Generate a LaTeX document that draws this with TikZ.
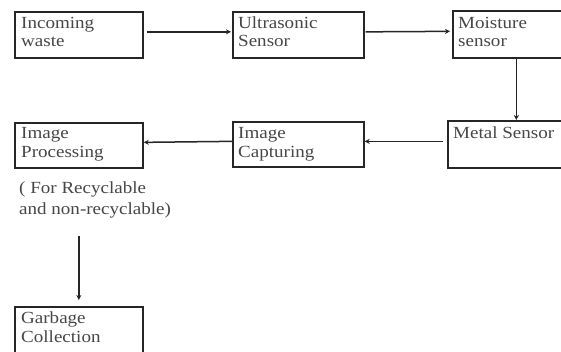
\documentclass[tikz,border=0pt]{standalone}
\usepackage{fontspec}
\setmainfont{Liberation Serif}[FakeStretch=1.12]
\usetikzlibrary{arrows.meta,calc}
\begin{document}
\begin{tikzpicture}[x=1pt,y=-1pt,
  boxst/.style={draw=black!85,line width=1.7pt},
  lbl/.style={anchor=base west,inner sep=0pt,text=black!72,font=\fontsize{17}{18.5}\selectfont},
  arr/.style={line width=1.5pt,draw=black!85,-{Stealth[length=5pt,width=5pt]}}]
\useasboundingbox (0,0) rectangle (561,351);
\clip (0,0) rectangle (561,351);
\fill[white] (0,0) rectangle (561,351);
% boxes
\node[boxst,anchor=north west,minimum width=128pt,minimum height=46pt,inner sep=0pt] (A) at (14,11) {};
\node[boxst,anchor=north west,minimum width=131pt,minimum height=46pt,inner sep=0pt] (B) at (232,11) {};
\node[boxst,anchor=north west,minimum width=123pt,minimum height=47pt,inner sep=0pt] (C) at (452,10) {};
\node[boxst,anchor=north west,minimum width=128pt,minimum height=47pt,inner sep=0pt] (D) at (447,120) {};
\node[boxst,anchor=north west,minimum width=131pt,minimum height=45pt,inner sep=0pt] (E) at (232,121) {};
\node[boxst,anchor=north west,minimum width=128pt,minimum height=45pt,inner sep=0pt] (F) at (14,122) {};
\node[boxst,anchor=north west,minimum width=128pt,minimum height=60pt,inner sep=0pt] (G) at (14,306) {};
% labels
\node[lbl] (tA1) at (21,28) {Incoming};
\node[lbl] (tA2) at (21,46) {waste};
\node[lbl] (tB1) at (238,28) {Ultrasonic};
\node[lbl] (tB2) at (238,46) {Sensor};
\node[lbl] (tC1) at (458,28) {Moisture};
\node[lbl] (tC2) at (458,46) {sensor};
\node[lbl] (tD1) at (453,138) {Metal Sensor};
\node[lbl] (tE1) at (238,138) {Image};
\node[lbl] (tE2) at (238,157) {Capturing};
\node[lbl] (tF1) at (21,138) {Image};
\node[lbl] (tF2) at (21,157) {Processing};
\node[lbl,align=left,anchor=north west] (note) at (19,181) {( For Recyclable\\[3pt]and non-recyclable)};
\node[lbl] (tG1) at (21,323) {Garbage};
\node[lbl] (tG2) at (21,342) {Collection};
% connectors
\draw[arr] ([xshift=3pt,yshift=3pt]A.east) -- ([xshift=-1pt,yshift=3pt]B.west);
\draw[arr] ([xshift=1pt,yshift=3pt]B.east) -- ([xshift=-2pt,yshift=3pt]C.west);
\draw[arr] ([xshift=2pt]C.south) -- ([xshift=2pt]C.south |- D.north);
\draw[arr] ([xshift=-4pt,yshift=3pt]D.west) -- ([yshift=3pt]E.east);
\draw[arr] ([yshift=3pt]E.west) -- ([yshift=3pt]F.east);
\draw[arr] ([yshift=-18pt]note.south -| G.north) -- ([yshift=6pt]G.north);
\end{tikzpicture}
\end{document}
